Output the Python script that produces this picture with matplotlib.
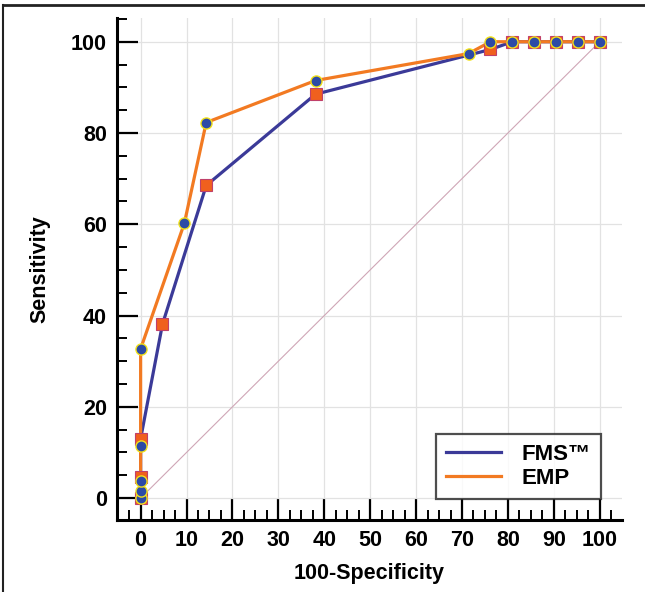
import numpy as np
import matplotlib
matplotlib.use("Agg")
import matplotlib.pyplot as plt
from matplotlib.ticker import MultipleLocator
from matplotlib.lines import Line2D

plt.rcParams['font.family'] = ['Liberation Sans', 'DejaVu Sans']
plt.rcParams['font.weight'] = 'bold'

# ROC points (100-specificity, sensitivity)
fms_x = [0, 0, 0, 4.76, 14.29, 38.1, 76.19, 80.95, 85.71, 90.48, 95.24, 100]
fms_y = [0, 4.7, 13.0, 38.1, 68.5, 88.5, 98.3, 100, 100, 100, 100, 100]

emp_x = [0, 0, 0, 0, 0, 9.52, 14.29, 38.1, 71.43, 76.19, 80.95, 85.71, 90.48, 95.24, 100]
emp_y = [0, 1.6, 3.7, 11.4, 32.7, 60.2, 82.3, 91.5, 97.4, 100, 100, 100, 100, 100, 100]

labels = ["FMS\u2122", "EMP"]

blue = "#3b3a98"
orange = "#f27a22"

fig = plt.figure(figsize=(6.45, 5.92), dpi=100)
ax = fig.add_axes([0.181, 0.1216, 0.783, 0.848])

ax.plot([0, 100], [0, 100], color="#cfa6b6", lw=0.8, zorder=1)

l1, = ax.plot(fms_x, fms_y, color=blue, lw=2.3, zorder=3, label=labels[0])
l2, = ax.plot(emp_x, emp_y, color=orange, lw=2.3, zorder=4, label=labels[1])
ax.plot(fms_x, fms_y, ls="none", marker="s", ms=8.8, mfc="#f0601e",
        mec="#c0406a", mew=0.8, zorder=5)
ax.plot(emp_x, emp_y, ls="none", marker="o", ms=8, mfc="#2d4aa6",
        mec="#f2e21a", mew=1.0, zorder=6)

ax.set_xlim(-5.2, 104.8)
ax.set_ylim(-4.8, 105.2)
ax.xaxis.set_major_locator(MultipleLocator(10))
ax.xaxis.set_minor_locator(MultipleLocator(2.5))
ax.yaxis.set_major_locator(MultipleLocator(20))
ax.yaxis.set_minor_locator(MultipleLocator(5))
ax.set_xticks(np.arange(0, 101, 10))
ax.set_yticks(np.arange(0, 101, 20))

ax.grid(True, which="major", color="#e2e2e2", lw=0.9, zorder=0)
ax.set_axisbelow(True)

for s in ["top", "right"]:
    ax.spines[s].set_visible(False)
for s in ["left", "bottom"]:
    ax.spines[s].set_linewidth(2.2)

ax.tick_params(which="major", direction="in", length=15, width=1.6,
               labelsize=15.5, pad=7)
ax.tick_params(which="minor", direction="in", length=7.5, width=1.4)

ax.set_xlabel("100-Specificity", fontsize=15.5, fontweight="bold", labelpad=9)
ax.set_ylabel("Sensitivity", fontsize=15.5, fontweight="bold", labelpad=15)

leg = ax.legend(handles=[l1, l2], loc="lower right",
                bbox_to_anchor=(0.958, 0.042), fontsize=16, frameon=True,
                fancybox=False, handlelength=2.5, borderpad=0.45,
                labelspacing=0.15, handletextpad=0.9, borderaxespad=0)
leg.get_frame().set_edgecolor("#222222")
leg.get_frame().set_linewidth(1.6)
for t in leg.get_texts():
    t.set_fontweight("bold")

# thin frame around the figure
fig.add_artist(Line2D([0.005, 1.0], [0.992, 0.992], color="#222222", lw=2,
                      transform=fig.transFigure))
fig.add_artist(Line2D([0.005, 0.005], [0.0, 0.992], color="#222222", lw=1.5,
                      transform=fig.transFigure))

fig.savefig("out.png", dpi=100)
